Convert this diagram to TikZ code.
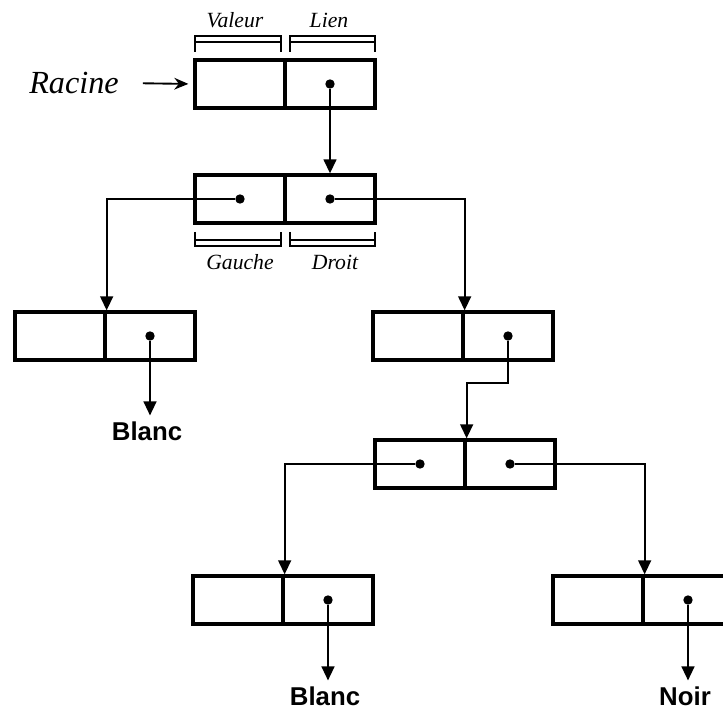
\documentclass[tikz,border=0pt]{standalone}
\usepackage{fontspec}
\setmainfont{Liberation Serif}
\setsansfont{Liberation Sans}
\usetikzlibrary{arrows.meta,calc}

\begin{document}
\begin{tikzpicture}[x=0.03cm,y=-0.03cm]
	\tikzset{cell/.style={draw,line width=2.8pt,minimum width=2.7cm,minimum height=1.44cm,inner sep=0pt},
		dot/.style={circle,fill,inner sep=0pt,minimum size=8pt},
		link/.style={line width=1.6pt,-{Triangle[width=11pt,length=12pt]}},
		brace/.style={line width=1.6pt},
		tag/.style={font=\itshape\fontsize{18.5}{18.5}\selectfont},
		leaf/.style={font=\sffamily\bfseries\fontsize{22}{22}\selectfont,inner sep=5pt}}
	\useasboundingbox (0,0) rectangle (723,709);
	\clip (0,0) rectangle (723,709);

	\node (v0) at (240,84) [cell]{};
	\node (l0) at (330,84) [cell]{};
	\node (v1) at (240,199) [cell]{};
	\node (l1) at (330,199) [cell]{};
	\node (v2) at (60,336) [cell]{};
	\node (l2) at (150,336) [cell]{};
	\node (v3) at (418,336) [cell]{};
	\node (l3) at (508,336) [cell]{};
	\node (v4) at (420,464) [cell]{};
	\node (l4) at (510,464) [cell]{};
	\node (v5) at (238,600) [cell]{};
	\node (l5) at (328,600) [cell]{};
	\node (v6) at (598,600) [cell]{};
	\node (l6) at (688,600) [cell]{};

	\node (d0) at (l0) [dot]{};
	\node (g1) at (v1) [dot]{};
	\node (d1) at (l1) [dot]{};
	\node (d2) at (l2) [dot]{};
	\node (d3) at (l3) [dot]{};
	\node (g4) at (v4) [dot]{};
	\node (d4) at (l4) [dot]{};
	\node (d5) at (l5) [dot]{};
	\node (d6) at (l6) [dot]{};

	\foreach \xa/\xb/\ya/\yb/\yc in {195/281/36/42/52, 290/375/36/42/52, 195/281/246/240/232, 290/375/246/240/232}
	\draw[brace] (\xa,\yc) -- (\xa,\ya) -- (\xb,\ya) -- (\xb,\yc) (\xa,\yb) -- (\xb,\yb);

	\node (val) at (235,20) [tag]{Valeur};
	\node (lien) at (329,20) [tag]{Lien};
	\node (gau) at (240,262) [tag]{Gauche};
	\node (dro) at (335,262) [tag]{Droit};

	\node (rac) at (74,83) [font=\itshape\fontsize{27.5}{27.5}\selectfont]{Racine};
	\draw[line width=1.6pt,-{Stealth[length=12pt,width=10pt]},shorten <=0.6cm,shorten >=0.15cm] (rac.east) -- (v0.west);

	\node (b1) at (147,431) [leaf]{Blanc};
	\node (b2) at (325,696) [leaf]{Blanc};
	\node (n1) at (685,696) [leaf]{Noir};

	\draw[link] (d0) -- (l1.north);
	\draw[link] (g1) -| (v2.north east);
	\draw[link] (d1) -| (v3.north east);
	\draw[link] (d3) -- ++(0,47) -| (v4.north east);
	\draw[link] (g4) -| (v5.north east);
	\draw[link] (d4) -| (v6.north east);
	\draw[link] (d2) -- (d2 |- b1.north);
	\draw[link] (d5) -- (d5 |- b2.north);
	\draw[link] (d6) -- (d6 |- n1.north);
\end{tikzpicture}
\end{document}
